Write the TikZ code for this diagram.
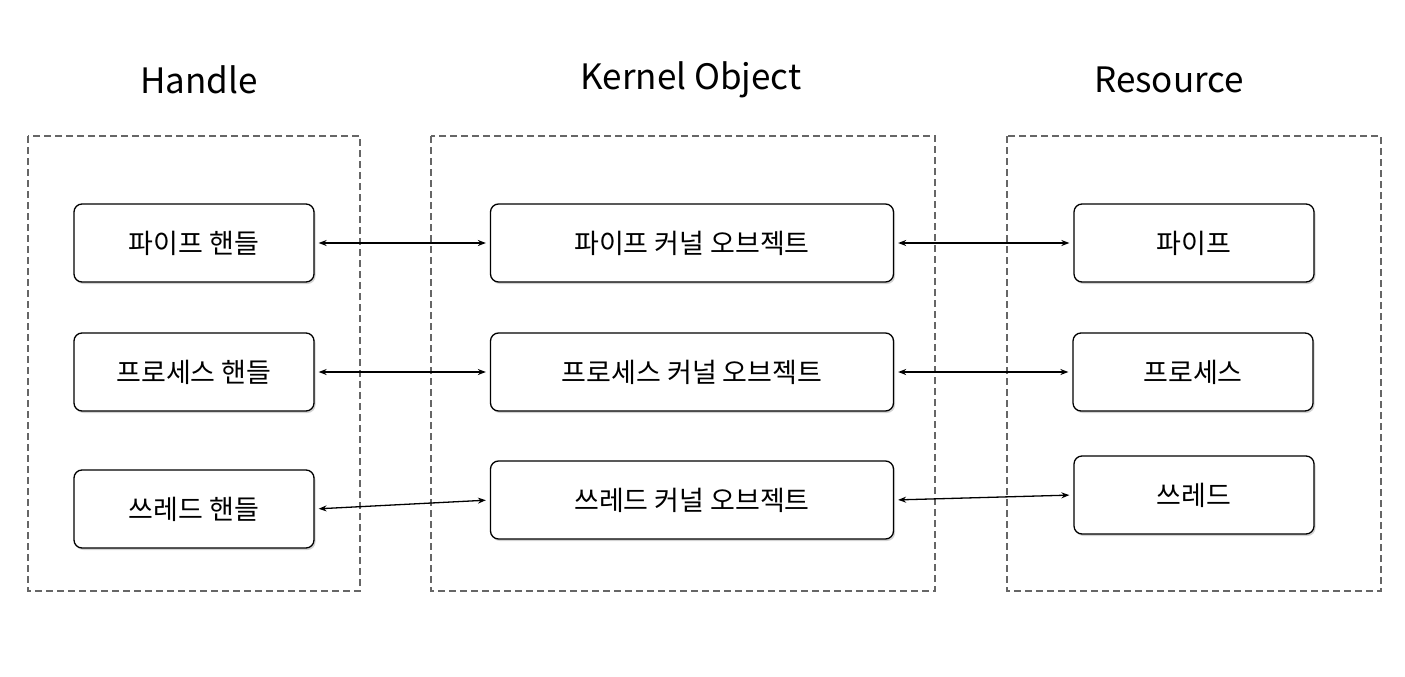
\documentclass[tikz,border=0pt]{standalone}
\usepackage{fontspec}
\setmainfont{Noto Sans CJK KR}
\usetikzlibrary{arrows.meta, shadows}

\begin{document}
\begin{tikzpicture}[
    x=1pt, y=-1pt,
    group/.style={draw=black!60, dash pattern=on 7pt off 4pt, line width=1.3pt},
    title/.style={font=\fontsize{35}{40}\selectfont},
    box/.style={rectangle, rounded corners=8pt, draw=black, line width=1.3pt, fill=white,
        minimum width=240pt, minimum height=78pt, font=\fontsize{27}{32}\selectfont,
        drop shadow={shadow xshift=1.5pt, shadow yshift=-2pt, opacity=0.35}},
    wide/.style={box, minimum width=403pt},
    arrow/.style={line width=1.3pt, {Stealth[length=8pt,width=6pt]}-{Stealth[length=8pt,width=6pt]}, shorten >=4pt, shorten <=4pt}
]
\useasboundingbox (0,0) rectangle (1405,677);

% Groups
\draw[group] (28,136) rectangle (360,591);
\draw[group] (431,136) rectangle (935,591);
\draw[group] (1007,136) rectangle (1381,591);

% Titles
\node[title] (t_handle) at (199,80) {Handle};
\node[title] (t_kernel) at (691,80) {Kernel Object};
\node[title] (t_res) at (1169,80) {Resource};

% Handles
\node[box] (h_pipe) at (194,243) {파이프 핸들};
\node[box] (h_proc) at (194,372) {프로세스 핸들};
\node[box] (h_thread) at (194,509) {쓰레드 핸들};

% Kernel objects
\node[wide] (k_pipe) at (692,243) {파이프 커널 오브젝트};
\node[wide] (k_proc) at (692,372) {프로세스 커널 오브젝트};
\node[wide] (k_thread) at (692,500) {쓰레드 커널 오브젝트};

% Resources
\node[box] (r_pipe) at (1194,243) {파이프};
\node[box] (r_proc) at (1193,372) {프로세스};
\node[box] (r_thread) at (1194,495) {쓰레드};

% Arrows
\draw[arrow] (h_pipe.east) -- (k_pipe.west);
\draw[arrow] (h_proc.east) -- (k_proc.west);
\draw[arrow] (h_thread.east) -- (k_thread.west);
\draw[arrow] (k_pipe.east) -- (r_pipe.west);
\draw[arrow] (k_proc.east) -- (r_proc.west);
\draw[arrow] (k_thread.east) -- (r_thread.west);

\end{tikzpicture}
\end{document}
